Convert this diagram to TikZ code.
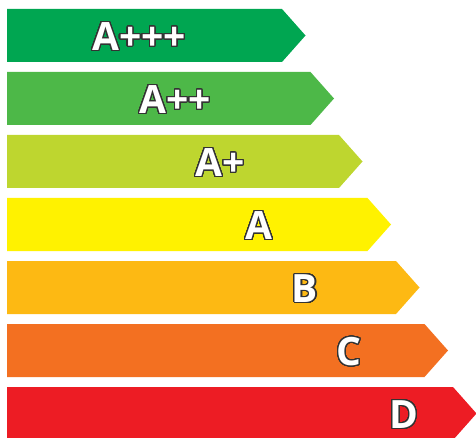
\documentclass[tikz,border=0pt]{standalone}
\usepackage{fontspec}
\setmainfont{Open Sans}
\usepackage{contour}
\contourlength{1.1pt}
\contournumber{40}
\definecolor{cAppp}{HTML}{00A651}
\definecolor{cApp}{HTML}{4DB848}
\definecolor{cAp}{HTML}{BED62F}
\definecolor{cA}{HTML}{FFF200}
\definecolor{cB}{HTML}{FDB913}
\definecolor{cC}{HTML}{F37021}
\definecolor{cD}{HTML}{ED1C24}
\definecolor{edgegray}{HTML}{333333}
\tikzset{
  lbl/.style={inner sep=0pt, font=\fontsize{39}{39}\selectfont\bfseries, text=white},
}
\newcommand{\outl}[1]{\contour{edgegray}{#1}}
\begin{document}
\begin{tikzpicture}[x=1pt,y=-1pt]
\useasboundingbox (0,0) rectangle (476,438);
\foreach \i/\c in {0/cAppp,1/cApp,2/cAp,3/cA,4/cB,5/cC,6/cD}{
  \pgfmathsetmacro{\t}{9+63*\i}
  \pgfmathsetmacro{\b}{\t+53}
  \pgfmathsetmacro{\m}{\t+26.5}
  \pgfmathsetmacro{\e}{282+28.5*\i}
  \pgfmathsetmacro{\p}{\e+23.5}
  \fill[\c] (7,\t) -- (\e,\t) -- (\p,\m) -- (\e,\b) -- (7,\b) -- cycle;
}
\node[lbl] (l0) at (139,37) {\outl{A+++}};
\node[lbl] (l1) at (175,100) {\outl{A++}};
\node[lbl] (l2) at (220,163) {\outl{A+}};
\node[lbl] (l3) at (259,226) {\outl{A}};
\node[lbl] (l4) at (305,289) {\outl{B}};
\node[lbl] (l5) at (349,352) {\outl{C}};
\node[lbl] (l6) at (404,415) {\outl{D}};
\end{tikzpicture}
\end{document}
